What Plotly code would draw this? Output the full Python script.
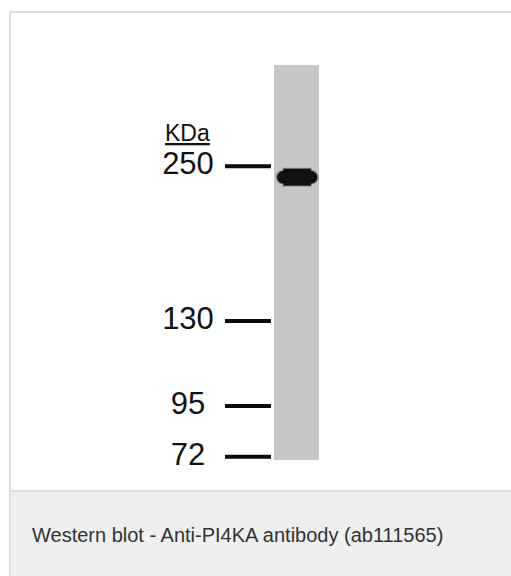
import plotly.graph_objects as go

# ---- data read from the blot ----
marker_labels = ["250", "130", "95", "72"]          # kDa ladder
marker_migration = [0.256, 0.648, 0.863, 0.992]      # relative migration (0 = lane top, 1 = lane bottom)
lane_names = ["Sample"]
lane_length = [1.0]
band_migration = [0.284]                              # detected PI4KA band
unit_label = "KDa"
caption = "Western blot - Anti-PI4KA antibody (ab111565)"

W, H = 511, 576
FONT = "Liberation Sans, Arial, Helvetica, sans-serif"

# axis mapping (layout only)
LANE_X = 1
x_range = [-5.589, 5.767]
y_range = [1.2937, -0.1646]

fig = go.Figure()

# lane
fig.add_trace(go.Bar(
    x=[LANE_X], y=lane_length, base=[0], width=[1.0],
    marker=dict(color="#c7c7c7", line=dict(width=0)),
    hoverinfo="skip", showlegend=False,
))

# band (soft halo + core + rounded ends)
for w, c, dx0, dx1 in [(19, "rgba(60,60,60,0.35)", 0.31, 0.34),
                       (17, "#111111", 0.29, 0.32)]:
    fig.add_trace(go.Scatter(
        x=[LANE_X - dx0, LANE_X + dx1],
        y=[band_migration[0]] * 2,
        mode="lines+markers", line=dict(color=c, width=w),
        marker=dict(size=w * 0.75, color=c, line=dict(width=0)),
        hoverinfo="skip", showlegend=False,
    ))

# marker ticks
mx, my = [], []
for m in marker_migration:
    mx += [-0.589, 0.433, None]
    my += [m, m, None]
fig.add_trace(go.Scatter(
    x=mx, y=my, mode="lines", line=dict(color="#0a0a0a", width=4),
    hoverinfo="skip", showlegend=False,
))

# marker labels
fig.add_trace(go.Scatter(
    x=[-1.411] * len(marker_labels), y=marker_migration,
    mode="text", text=marker_labels, textposition="middle center",
    textfont=dict(family=FONT, size=31, color="#111111"),
    hoverinfo="skip", showlegend=False,
))

fig.add_annotation(
    x=-1.42, y=marker_migration[0] - 0.085, xref="x", yref="y",
    text="<u>" + unit_label + "</u>", showarrow=False,
    font=dict(family=FONT, size=23, color="#111111"),
    xanchor="center", yanchor="middle",
)

fig.add_annotation(
    x=30 / W, y=1 - 535 / H, xref="paper", yref="paper",
    text=caption, showarrow=False, xanchor="left", yanchor="middle",
    font=dict(family=FONT, size=20, color="#333333"),
)

# frame
fig.add_shape(type="rect", xref="paper", yref="paper",
              x0=10 / W, x1=1.02, y0=1 - 491 / H, y1=1 - 12 / H,
              line=dict(color="#dedede", width=2), fillcolor="white", layer="below")
fig.add_shape(type="rect", xref="paper", yref="paper",
              x0=10 / W, x1=1.02, y0=-0.02, y1=1 - 491 / H,
              line=dict(color="#dedede", width=2), fillcolor="#eeefef", layer="below")

fig.update_layout(
    width=W, height=H, margin=dict(l=0, r=0, t=0, b=0),
    paper_bgcolor="white", plot_bgcolor="rgba(0,0,0,0)",
    xaxis=dict(range=x_range, visible=False, fixedrange=True),
    yaxis=dict(range=y_range, visible=False, fixedrange=True),
    bargap=0, showlegend=False,
)

fig.write_html(
    "out.html",
    config={"displayModeBar": False},
    post_script="document.body.style.margin='0';document.body.style.overflow='hidden';",
)
